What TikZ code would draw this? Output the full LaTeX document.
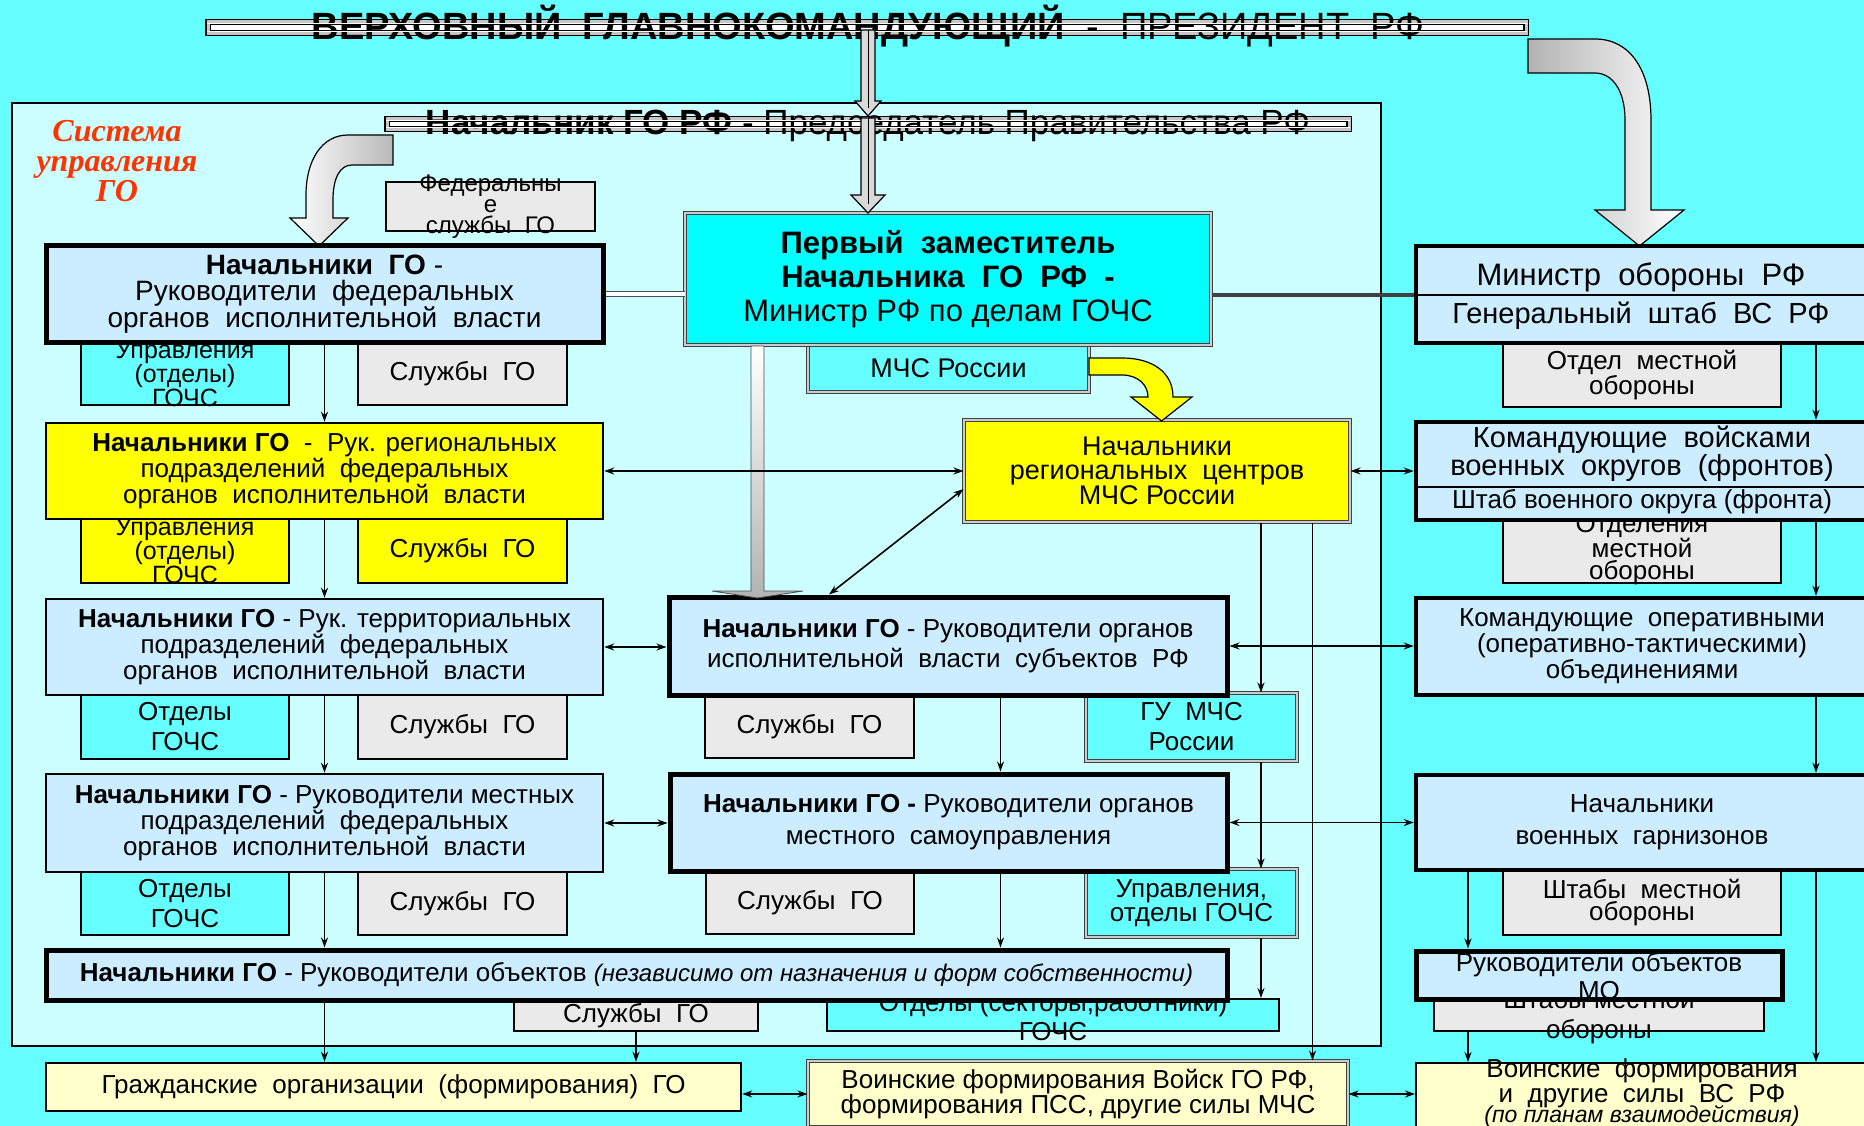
\documentclass[tikz,border=0pt]{standalone}
\usepackage{fontspec}
\setmainfont{Liberation Sans}
\newfontfamily\redserif{Liberation Serif}
\usetikzlibrary{arrows.meta,calc,positioning}
\definecolor{bgcyan}{HTML}{66FFFF}
\definecolor{panel}{HTML}{CCFFFF}
\definecolor{lblue}{HTML}{CCECFF}
\definecolor{cyanbox}{HTML}{66FFFF}
\definecolor{depcyan}{HTML}{00FFFF}
\definecolor{ylw}{HTML}{FFFF00}
\definecolor{cream}{HTML}{FFFFCC}
\definecolor{svgrey}{HTML}{EAEAEA}
\definecolor{redtxt}{HTML}{FF3300}
\newcommand{\fsz}[2]{\fontsize{#1}{#2}\selectfont}

\begin{document}
\begin{tikzpicture}[x=1pt, y=-1pt,
    box/.style={draw, line width=2.5pt, inner sep=0pt, align=center, font=\fsz{26}{26}},
    hvy/.style={line width=5pt},
    rbox/.style={draw, line width=4.5pt, fill=lblue, inner sep=0pt, align=center, font=\fsz{26}{26}},
    sub/.style={draw, line width=2pt, fill=svgrey, inner sep=0pt, align=center, font=\fsz{26}{22}},
    dbl/.style={draw=black!75, line width=1pt, double=gray!40, double distance=2pt},
    bar/.style={draw, line width=1.3pt, double=gray!45, double distance=3pt, fill=white, inner sep=0pt},
    sz/.style 2 args={minimum width=#1pt, minimum height=#2pt},
    ar/.style={-{Stealth[length=10pt,width=7pt]}, line width=1.6pt},
    dar/.style={{Stealth[length=10pt,width=7pt]}-{Stealth[length=10pt,width=7pt]}, line width=1.6pt}]
  \useasboundingbox (0,0) rectangle (1864,1126);
  \clip (0,0) rectangle (1864,1126);
  \fill[bgcyan] (0,0) rectangle (1864,1126);
  \draw[fill=panel, line width=2pt] (12,103) rectangle (1381,1046);

  % guide lines for the connectors
  \coordinate (cL) at (324.5,0);
  \coordinate (cS) at (636,0);
  \coordinate (cD) at (829,0);
  \coordinate (cM) at (1000.5,0);
  \coordinate (cG) at (1261,0);
  \coordinate (cV) at (1312.5,0);
  \coordinate (cO) at (1468,0);
  \coordinate (cR) at (1816,0);

  % top bars
  \node[bar, sz={1318}{11.5}] (pres) at (867,27.5) {};
  \node[anchor=base, font=\fsz{38}{38}] (presTxt) at (868,40)
    {\textbf{ВЕРХОВНЫЙ~ ГЛАВНОКОМАНДУЮЩИЙ}~ -~ ПРЕЗИДЕНТ~ РФ};
  \draw[white, line width=0.9pt] ([yshift=4pt]pres.west) -- ([yshift=4pt]pres.east);
  \draw[white, line width=0.9pt] ([yshift=-4pt]pres.west) -- ([yshift=-4pt]pres.east);
  \node[bar, sz={962}{10.5}] (chair) at (868,124) {};
  \node[anchor=base, font=\fsz{35}{35}] (chairTxt) at (868,135)
    {\textbf{Начальник ГО РФ} - Председатель Правительства РФ};
  \draw[white, line width=0.9pt] ([yshift=3.5pt]chair.west) -- ([yshift=3.5pt]chair.east);
  \draw[white, line width=0.9pt] ([yshift=-3.5pt]chair.west) -- ([yshift=-3.5pt]chair.east);

  \node[font=\redserif\bfseries\itshape\fsz{32}{30}, text=redtxt, align=center] (sysTxt) at (117,161)
    {Система\\управления\\ГО};

  % block arrows
  \draw[line width=1.2pt, fill=gray!30] (861,30) -- (861,101) -- (855,101) -- (868,116) -- (881,101) -- (875,101) -- (875,30) -- cycle;
  \draw[line width=1pt] (868,30) -- (868,108);
  \draw[line width=1.2pt, left color=white, right color=gray!55] (393,135) -- (348,135) .. controls (322,135) and (306,160) .. (306,195) -- (306,218) -- (290,218) -- (319,246) -- (348,218) -- (333,218) -- (333,200) .. controls (333,178) and (340,165) .. (352,165) -- (393,165) -- cycle;
  \draw[line width=1.2pt, left color=gray!60, right color=white] (1528,39) -- (1595,39) .. controls (1630,39) and (1651,70) .. (1651,120) -- (1651,210) -- (1684,210) -- (1639.5,246) -- (1595,210) -- (1625,210) -- (1625,120) .. controls (1625,90) and (1612,73) .. (1595,73) -- (1528,73) -- cycle;

  % left column: small boxes first
  \node[sub, sz={209}{49}] (fedSv) at (490.5,207) {};
  \node[font=\fsz{24}{21}, align=center] (fedSvTxt) at (fedSv) {Федеральны\\е\\службы~ ГО};
  \node[sub, fill=cyanbox, sz={208}{62}] (upr1) at (185,374) {};
  \node[font=\fsz{25}{21}, align=center] (upr1Txt) at (upr1) {Управления\\(отделы)\\ГОЧС};
  \node[sub, sz={209}{62}] (sv1) at (462.5,374) {Службы~ ГО};
  \node[sub, fill=ylw, sz={208}{64}] (upr2) at (185,551) {};
  \node[font=\fsz{25}{21}, align=center] (upr2Txt) at (upr2) {Управления\\(отделы)\\ГОЧС};
  \node[sub, fill=ylw, sz={209}{64}] (sv2) at (462.5,551) {Службы~ ГО};
  \node[sub, fill=cyanbox, sz={208}{64}, font=\fsz{26}{30}] (otd3) at (185,727) {Отделы\\ГОЧС};
  \node[sub, sz={209}{64}] (sv3) at (462.5,727) {Службы~ ГО};
  \node[sub, fill=cyanbox, sz={208}{63}, font=\fsz{26}{30}] (otd4) at (185,903.5) {Отделы\\ГОЧС};
  \node[sub, sz={209}{63}] (sv4) at (462.5,903.5) {Службы~ ГО};

  % left column: main boxes
  \node[box, hvy, fill=lblue, sz={557}{96}, font=\fsz{28}{26}] (fed) at (324.5,294)
    {\textbf{Начальники~ ГО} -\\Руководители~ федеральных\\органов~ исполнительной~ власти};
  \node[box, fill=ylw, sz={557}{96}] (regFed) at (324.5,471)
    {\textbf{Начальники ГО}~ -~ Рук. региональных\\подразделений~ федеральных\\органов~ исполнительной~ власти};
  \node[box, fill=lblue, sz={557}{96}] (terFed) at (324.5,647)
    {\textbf{Начальники ГО} - Рук. территориальных\\подразделений~ федеральных\\органов~ исполнительной~ власти};
  \node[box, fill=lblue, sz={557}{98}] (locFed) at (324.5,823)
    {\textbf{Начальники ГО} - Руководители местных\\подразделений~ федеральных\\органов~ исполнительной~ власти};

  % middle column
  \node[sub, sz={209}{63}] (svS) at (809.5,726.5) {Службы~ ГО};
  \node[box, dbl, fill=cyanbox, sz={211}{68}, font=\fsz{26}{30}] (gu) at (1191.5,727) {ГУ~ МЧС\\России};
  \node[sub, sz={208}{63}] (svL) at (810,902.5) {Службы~ ГО};
  \node[box, dbl, fill=cyanbox, sz={211}{68}, font=\fsz{26}{21}] (upr) at (1191.5,903) {Управления,\\отделы ГОЧС};
  \node[sub, sz={244}{31}] (svO) at (636,1015.5) {Службы~ ГО};
  \node[sub, fill=cyanbox, sz={452}{32}] (otdS) at (1053,1015) {};
  \node[font=\fsz{26}{29}, align=center] (otdSTxt) at (1053,1017) {Отделы (секторы,работники)\\ГОЧС};

  \node[box, dbl, fill=cyanbox, sz={281}{47}, font=\fsz{27}{27}] (mchs) at (948.5,368) {МЧС России};
  \node[box, dbl, fill=depcyan, sz={526}{132}, font=\fsz{31}{34}] (dep) at (948,279)
    {\textbf{Первый~ заместитель}\\\textbf{Начальника~ ГО~ РФ~ -}\\Министр РФ по делам ГОЧС};
  \node[box, dbl, fill=ylw, sz={386}{102}, font=\fsz{27}{24}] (reg) at (1157,471)
    {Начальники\\региональных~ центров\\МЧС России};
  \node[box, hvy, fill=lblue, sz={558}{98}, font=\fsz{26}{30}] (subj) at (948,646)
    {\textbf{Начальники ГО} - Руководители органов\\исполнительной~ власти~ субъектов~ РФ};
  \node[box, hvy, fill=lblue, sz={557}{97}, font=\fsz{26}{32}] (local) at (948.5,822.5)
    {\textbf{Начальники ГО -} Руководители органов\\местного~ самоуправления};
  \node[box, hvy, fill=lblue, sz={1181}{50}] (obj) at (636.5,975)
    {\textbf{Начальники ГО} - Руководители объектов {\itshape\fsz{24}{24}(независимо от назначения и форм собственности)}};

  % bottom row
  \node[box, fill=cream, sz={695}{48}] (civ) at (393.5,1087) {Гражданские~ организации~ (формирования)~ ГО};
  \node[box, dbl, fill=cream, sz={540}{66}, font=\fsz{26}{23}] (mil) at (1078,1094)
    {Воинские формирования Войск ГО РФ,\\формирования ПСС, другие силы МЧС};

  % right column
  \node[sub, sz={278}{64}, font=\fsz{26}{21}] (moSub) at (1642,375) {Отдел~ местной\\обороны};
  \node[rbox, sz={452}{97}] (mo) at (1642,294.5) {};
  \draw[line width=2pt] (mo.west) -- (mo.east);
  \node[font=\fsz{31}{31}] (moTxt) at (1641,277) {Министр~ обороны~ РФ};
  \node[font=\fsz{29}{29}] (gshTxt) at (1641,316) {Генеральный~ штаб~ ВС~ РФ};
  \node[sub, sz={278}{63}] (okrSub) at (1642,551.5) {};
  \node[font=\fsz{26}{22}, align=center] (okrSubTxt) at (1642,549.5) {Отделения\\местной\\обороны};
  \node[rbox, sz={452}{98}] (okrug) at (1642,471) {};
  \draw[line width=2pt] ($(okrug.west)+(0,16)$) -- ($(okrug.east)+(0,16)$);
  \node[font=\fsz{29}{28}, align=center] (okrTxt) at (1642,454) {Командующие~ войсками\\военных~ округов~ (фронтов)};
  \node[font=\fsz{26}{26}] (shtTxt) at (1642,502) {Штаб военного округа (фронта)};
  \node[rbox, sz={452}{97}] (oper) at (1642,646.5)
    {Командующие~ оперативными\\(оперативно-тактическими)\\объединениями};
  \node[sub, sz={278}{65}] (garnSub) at (1642,902.5) {Штабы~ местной\\обороны};
  \node[rbox, sz={452}{95}, font=\fsz{26}{32}] (garn) at (1642,822.5) {Начальники\\военных~ гарнизонов};
  \node[sub, sz={330}{32}] (objSub) at (1599,1015) {};
  \node[font=\fsz{26}{30}, align=center] (objSubTxt) at (1599,1017) {Штабы местной\\обороны};
  \node[rbox, hvy, sz={366}{48}] (objmo) at (1599,975) {};
  \node[font=\fsz{26}{28}, align=center] (objmoTxt) at (1599,976) {Руководители объектов\\МО};
  \node[rbox, fill=cream, line width=2pt, sz={452}{65}] (milR) at (1642,1095.5) {};
  \node[font=\fsz{26}{21}, align=center] (milRTxt) at (1642,1093)
    {Воинские~ формирования\\и~ другие~ силы~ ВС~ РФ\\[-3pt]{\itshape\fsz{23}{20}(по планам взаимодействия)}};

  % block arrows into and out of the first deputy
  \draw[line width=1.2pt, fill=gray!30] (861,118) -- (861,195) -- (851,195) -- (868,213) -- (885,195) -- (875,195) -- (875,118) -- cycle;
  \draw[line width=1pt] (868,118) -- (868,204);
  \draw[line width=0.8pt, draw=gray!60!black, top color=white, bottom color=gray!60] (751,346) -- (751,591) -- (712,591) -- (757.5,598) -- (803,591) -- (764,591) -- (764,346) -- cycle;
  \draw[line width=1.2pt, fill=ylw] (1089,358) -- (1122,358) .. controls (1152,358) and (1173,372) .. (1173,397) -- (1192,397) -- (1161.5,421) -- (1131,397) -- (1148,397) .. controls (1148,385) and (1138,375) .. (1122,375) -- (1089,375) -- cycle;
  \draw[gray!60!black, line width=1.2pt, double=white, double distance=4pt] (fed.east) -- (fed.east -| dep.west);
  \draw[black!75, line width=4pt] (dep.east |- mo.west) -- (mo.west);

  % connectors
  \foreach \a/\b in {fed/regFed, regFed/terFed, terFed/locFed, locFed/obj}
    \draw[ar] (\a.south) -- (\a.south |- \b.north);
  \draw[ar] (obj.south -| cL) -- (civ.north -| cL);
  \draw[ar] (svO.south) -- (svO.south |- civ.north);
  \draw[ar] (subj.south -| cM) -- (local.north -| cM);
  \draw[ar] (local.south -| cM) -- (obj.north -| cM);
  \draw[ar] (reg.south -| cG) -- (gu.north -| cG);
  \draw[ar] (gu.south -| cG) -- (upr.north -| cG);
  \draw[ar] (upr.south -| cG) -- (otdS.north -| cG);
  \draw[ar] (reg.south -| cV) -- (mil.north -| cV);
  \foreach \a/\b in {mo/okrug, okrug/oper, oper/garn, garn/milR}
    \draw[ar] (\a.south -| cR) -- (\b.north -| cR);
  \draw[ar] (garn.south -| cO) -- (objmo.north -| cO);
  \draw[ar] (objSub.south -| cO) -- (milR.north -| cO);

  \draw[dar] (regFed.east) -- (reg.west);
  \draw[dar] (reg.east) -- (okrug.west);
  \draw[dar] (terFed.east) -- (terFed.east -| subj.west);
  \draw[dar] (subj.east) -- (subj.east -| oper.west);
  \draw[dar] (locFed.east) -- (locFed.east -| local.west);
  \draw[dar] (local.east) -- (local.east -| garn.west);
  \draw[dar] (mil.west -| civ.east) -- (mil.west);
  \draw[dar] (mil.east) -- (mil.east -| milR.west);
  \draw[dar] ($(reg.west)+(0,18)$) -- (subj.north -| cD);
\end{tikzpicture}
\end{document}
